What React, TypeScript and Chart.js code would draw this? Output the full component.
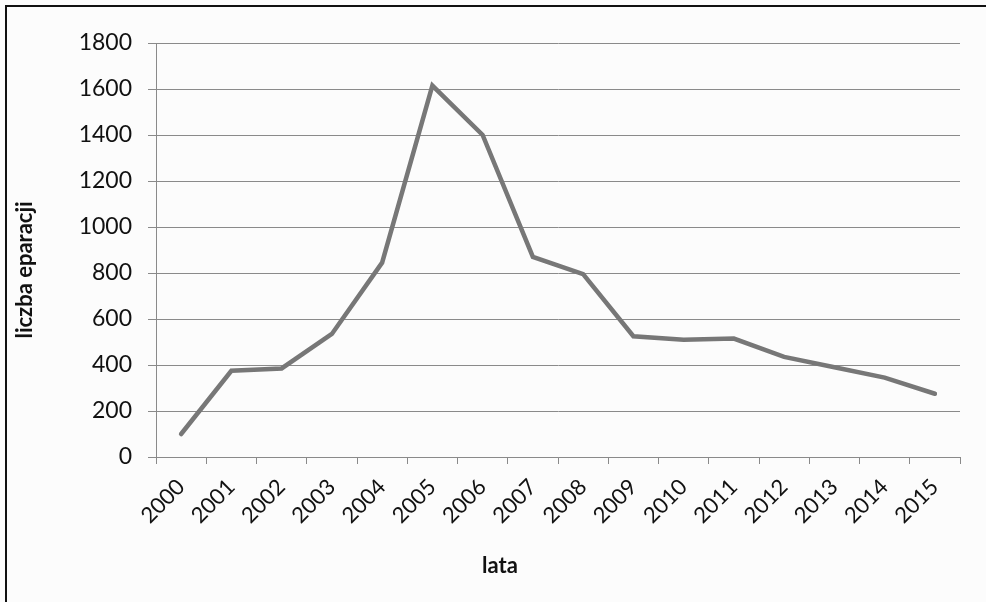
import React, { useEffect, useRef } from 'react';
import { Chart, registerables } from 'chart.js';

Chart.register(...registerables);

const years = ['2000', '2001', '2002', '2003', '2004', '2005', '2006', '2007', '2008', '2009', '2010', '2011', '2012', '2013', '2014', '2015'];
const values = [100, 375, 385, 535, 845, 1615, 1400, 870, 795, 525, 510, 515, 435, 390, 345, 275];
const yMin = 0;
const yMax = 1800;
const yStep = 200;
const xTitle = 'lata';
const yTitle = 'liczba eparacji';

const FONT = 'Lato, "Open Sans", sans-serif';

export default function App() {
  const ref = useRef<HTMLCanvasElement | null>(null);

  useEffect(() => {
    document.body.style.margin = '0';
    const canvas = ref.current;
    if (!canvas) return;

    const framePlugin = {
      id: 'frame',
      beforeDraw(chart: any) {
        const ctx = chart.ctx;
        ctx.save();
        ctx.fillStyle = '#fcfcfc';
        ctx.fillRect(0, 0, chart.width, chart.height);
        ctx.restore();
      },
      afterDraw(chart: any) {
        const ctx = chart.ctx;
        ctx.save();
        ctx.fillStyle = '#111';
        ctx.fillRect(5, 5, 2, chart.height - 5);
        ctx.fillRect(5, 5, chart.width - 5, 2);
        ctx.fillStyle = '#111';
        ctx.font = 'bold 22px ' + FONT;
        ctx.textAlign = 'center';
        ctx.textBaseline = 'alphabetic';
        ctx.fillText(xTitle, 500, 573);
        ctx.translate(32, 270);
        ctx.rotate(-Math.PI / 2);
        ctx.fillText(yTitle, 0, 0);
        ctx.restore();
      },
    };

    const chart = new Chart(canvas, {
      type: 'line',
      data: {
        labels: years,
        datasets: [
          {
            data: values,
            borderColor: '#777777',
            borderWidth: 4.5,
            borderCapStyle: 'round',
            borderJoinStyle: 'miter',
            pointRadius: 0,
            tension: 0,
            fill: false,
          },
        ],
      },
      options: {
        animation: false,
        responsive: false,
        maintainAspectRatio: false,
        layout: { padding: { top: 43, right: 26, left: 0, bottom: 0 } },
        plugins: {
          legend: { display: false },
          tooltip: { enabled: false },
          title: { display: false },
        },
        scales: {
          x: {
            type: 'category',
            offset: true,
            afterFit(scale: any) {
              scale.height = 145;
            },
            grid: {
              display: true,
              offset: true,
              drawOnChartArea: false,
              drawTicks: true,
              tickLength: 7,
              color: '#8a8a8a',
              lineWidth: 1,
            },
            border: { display: true, color: '#8a8a8a', width: 1 },
            ticks: {
              minRotation: 45,
              maxRotation: 45,
              autoSkip: false,
              padding: 10,
              color: '#111',
              font: { family: FONT, size: 22 },
            },
          },
          y: {
            min: yMin,
            max: yMax,
            afterFit(scale: any) {
              scale.width = 156;
            },
            grid: {
              display: true,
              drawOnChartArea: true,
              drawTicks: true,
              tickLength: 8,
              color: '#8a8a8a',
              lineWidth: 1,
            },
            border: { display: true, color: '#8a8a8a', width: 1 },
            ticks: {
              stepSize: yStep,
              padding: 16,
              color: '#111',
              font: { family: FONT, size: 23 },
              callback: (v: any) => String(v),
            },
          },
        },
      },
      plugins: [framePlugin],
    });

    return () => chart.destroy();
  }, []);

  return (
    <div style={{ position: 'absolute', left: 0, top: 0, width: 986, height: 602 }}>
      <canvas ref={ref} width={986} height={602} style={{ width: 986, height: 602, display: 'block' }} />
    </div>
  );
}
